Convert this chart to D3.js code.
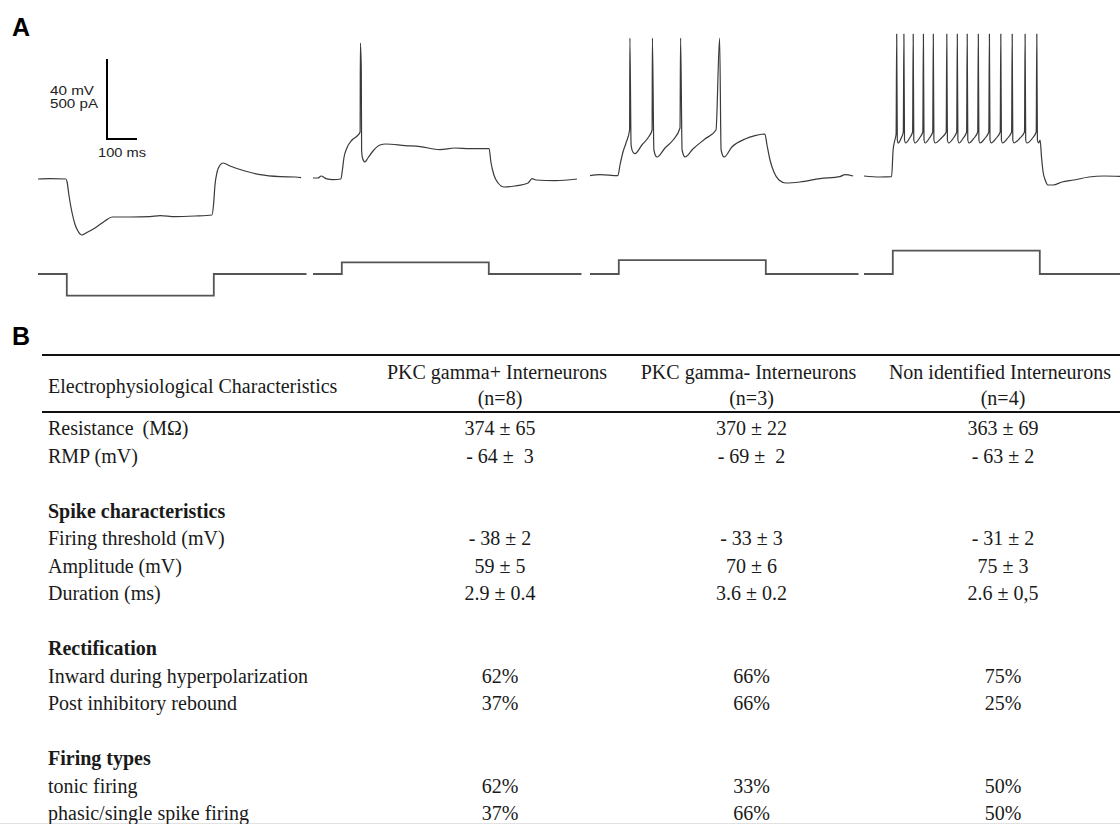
<!DOCTYPE html>
<html>
<head>
<meta charset="utf-8">
<script src="https://cdn.jsdelivr.net/npm/d3@7"></script>
<style>
  body { margin: 0; background: #fff; }
  svg { display: block; }
  .serif { font-family: "Liberation Serif", "Times New Roman", serif; font-size: 20px; fill: #1a1a1a; white-space: pre; }
</style>
</head>
<body>
<div id="chart"></div>
<script>
// ---- panel A : recordings, [time ms, membrane potential mV]
const trace1 = [
  [0, -65.5], [40, -65.3], [93, -65.5], [97, -67], [103, -73.5], [113, -82], [123, -88],
  [133, -91.5], [147, -93.5], [160, -92.5], [190, -90], [223, -86.5], [247, -84.5],
  [307, -84.5], [373, -84.3], [407, -83.8], [457, -84.3], [523, -84], [580, -83.5],
  [585, -78.5], [590, -68.5], [597, -62], [607, -58.5], [617, -57.5], [640, -59],
  [690, -61.5], [740, -63.3], [807, -64.3], [857, -64.5], [877, -64.8]
];
const trace2 = [
  [0, -65], [17, -65], [27, -64], [43, -65.3], [67, -65.8], [93, -65.5], [98, -61],
  [103, -55], [113, -50], [130, -46], [147, -44], [157, -42], [158, 2.5], [161, -11],
  [162, -51], [165, -55], [173, -57], [183, -55], [200, -51.5], [223, -48.5], [243, -48],
  [307, -48.8], [357, -49.3], [423, -50.8], [473, -50], [523, -50.3], [587, -50.3],
  [593, -57], [603, -63.5], [617, -67.5], [637, -69.5], [673, -69], [717, -67.5],
  [730, -65.3], [743, -66], [807, -66.3], [880, -65.5]
];
const trace3 = [
  [0, -63.8], [33, -63.3], [93, -63.8], [100, -58.5], [110, -52], [120, -47.5], [132, -41],
  [133, 5], [137, -48.5], [143, -52], [150, -52.8], [173, -48.5], [193, -45], [207, -41],
  [208, 5], [213, -51], [223, -54.5], [250, -50], [277, -46], [300, -40],
  [302, 5], [307, -51], [317, -54.5], [343, -50.5], [383, -45.5], [420, -41],
  [432, 5], [437, -51], [447, -54.5], [473, -49.5], [517, -45.5], [550, -43.8], [583, -43],
  [590, -48.5], [600, -56], [613, -62], [630, -66], [653, -67.5], [700, -67],
  [767, -65.3], [833, -64.3], [850, -63.3], [877, -64]
];
const trace4 = [
  [0, -64], [53, -64.5], [92, -64.3], [97, -51], [103, -46], [107, -43],
  [109, 7], [111, -46], [114, -47.5], [124, -45], [131, -42],
  [133, 7], [135, -46], [139, -47.5], [152, -45], [162, -42],
  [164, 7], [166, -46], [170, -47.5], [185, -45], [196, -42],
  [198, 7], [200, -46], [204, -47.5], [218, -45], [229, -42],
  [231, 7], [233, -46], [237, -47.5], [258, -45], [274, -42],
  [276, 7], [278, -46], [282, -47.5], [298, -45], [309, -42],
  [311, 7], [313, -46], [317, -47.5], [331, -45], [342, -42],
  [344, 7], [346, -46], [350, -47.5], [367, -45], [379, -42],
  [381, 7], [383, -46], [387, -47.5], [404, -45], [416, -42],
  [418, 7], [420, -46], [424, -47.5], [441, -45], [454, -42],
  [456, 7], [458, -46], [462, -47.5], [479, -45], [492, -42],
  [494, 7], [496, -46], [500, -47.5], [520, -45], [535, -42],
  [537, 7], [539, -46], [543, -47.5], [562, -45], [574, -42],
  [576, 7], [578, -46], [582, -47.5], [587, -46], [592, -55], [597, -62], [604, -66],
  [613, -68.5], [630, -68.5], [660, -67], [700, -66], [750, -64.5], [800, -64], [880, -64.3]
];
const traces = [trace1, trace2, trace3, trace4];

// injected current steps (pA)
const currentAmps = [-135, 73, 87, 146];
const stepOn = 96;
const stepOff = 586;
const currentEnd = 895;

// ---- panel B : table
const groups = ["PKC gamma+ Interneurons", "PKC gamma- Interneurons", "Non identified Interneurons"];
const groupN = ["(n=8)", "(n=3)", "(n=4)"];
const rowLabels = [
  "Resistance\u2009 (M\u03A9)", "RMP (mV)", "",
  "Spike characteristics", "Firing threshold (mV)", "Amplitude (mV)", "Duration (ms)", "",
  "Rectification", "Inward during hyperpolarization", "Post inhibitory rebound", "",
  "Firing types", "tonic firing", "phasic/single spike firing"
];
const sectionRows = ["Spike characteristics", "Rectification", "Firing types"];
const gammaPlus = ["374 \u00B1 65", "- 64 \u00B1  3", "", "", "- 38 \u00B1 2", "59 \u00B1 5", "2.9 \u00B1 0.4", "", "", "62%", "37%", "", "", "62%", "37%"];
const gammaMinus = ["370 \u00B1 22", "- 69 \u00B1  2", "", "", "- 33 \u00B1 3", "70 \u00B1 6", "3.6 \u00B1 0.2", "", "", "66%", "66%", "", "", "33%", "66%"];
const nonIdentified = ["363 \u00B1 69", "- 63 \u00B1 2", "", "", "- 31 \u00B1 2", "75 \u00B1 3", "2.6 \u00B1 0,5", "", "", "75%", "25%", "", "", "50%", "50%"];

const width = 1120;
const height = 824;

const svg = d3
  .select("#chart")
  .append("svg")
  .attr("width", width)
  .attr("height", height);

// panel letters
svg.selectAll(".panel-letter")
  .data([["A", 36], ["B", 345]])
  .enter()
  .append("text")
  .attr("x", 12)
  .attr("y", (d) => d[1])
  .style("font-family", "'Liberation Sans', Arial, sans-serif")
  .style("font-weight", "bold")
  .style("font-size", "25px")
  .text((d) => d[0]);

// scales shared by all sweeps: 0.3 px per ms, 2 px per mV, 0.16 px per pA
const panelX = [38, 313, 590, 864];
const xs = panelX.map((x0) => d3.scaleLinear().domain([0, 1000]).range([x0, x0 + 300]));
const yV = d3.scaleLinear().domain([-65, 5]).range([178, 38]);
const yI = d3.scaleLinear().domain([0, 500]).range([274, 194]);

// voltage traces
traces.forEach((tr, i) => {
  const line = d3.line()
    .x((d) => xs[i](d[0]))
    .y((d) => yV(d[1]))
    .curve(d3.curveMonotoneX);
  svg.append("path")
    .attr("d", line(tr))
    .attr("fill", "none")
    .attr("stroke", "#3a3a3a")
    .attr("stroke-width", 1.2)
    .attr("stroke-linejoin", "round");
});

// current steps
currentAmps.forEach((amp, i) => {
  const pts = [[0, 0], [stepOn, 0], [stepOn, amp], [stepOff, amp], [stepOff, 0], [currentEnd, 0]];
  const line = d3.line()
    .x((d) => xs[i](d[0]))
    .y((d) => yI(d[1]));
  svg.append("path")
    .attr("d", line(pts))
    .attr("fill", "none")
    .attr("stroke", "#555")
    .attr("stroke-width", 1.8);
});

// scale bar: 40 mV / 500 pA and 100 ms
const sbX = 107;
const sbBottom = 139;
const sbLen = yV(-65) - yV(-25);
const sbW = xs[0](100) - xs[0](0);
svg.append("path")
  .attr("d", `M${sbX},${sbBottom - sbLen}V${sbBottom}H${sbX + sbW}`)
  .attr("fill", "none")
  .attr("stroke", "#000")
  .attr("stroke-width", 2);

const sbText = [["40 mV", 50, 95, 44], ["500 pA", 50, 108, 48], ["100 ms", 98, 157, 48]];
svg.selectAll(".sb-label")
  .data(sbText)
  .enter()
  .append("text")
  .attr("x", (d) => d[1])
  .attr("y", (d) => d[2])
  .attr("textLength", (d) => d[3])
  .attr("lengthAdjust", "spacingAndGlyphs")
  .style("font-family", "'Liberation Sans', Arial, sans-serif")
  .style("font-size", "12.5px")
  .style("fill", "#222")
  .text((d) => d[0]);

// ---- table
const colX = d3.scalePoint().domain(groups).range([500, 1003]);
const rowY = d3.scalePoint().domain(d3.range(rowLabels.length)).range([435, 820]);

// rules
[[355, "#111", 2.2], [412, "#111", 2.2], [823.5, "#e2e2e2", 1]].forEach((r) => {
  svg.append("line")
    .attr("x1", r[0] > 800 ? 0 : 42)
    .attr("x2", width)
    .attr("y1", r[0])
    .attr("y2", r[0])
    .attr("stroke", r[1])
    .attr("stroke-width", r[2]);
});

svg.append("text")
  .attr("class", "serif")
  .attr("x", 48)
  .attr("y", 393)
  .text("Electrophysiological Characteristics");

svg.selectAll(".col-head")
  .data(groups)
  .enter()
  .append("text")
  .attr("class", "serif")
  .attr("x", (d) => colX(d) - 3)
  .attr("y", 379)
  .attr("text-anchor", "middle")
  .text((d) => d);

svg.selectAll(".col-n")
  .data(groupN)
  .enter()
  .append("text")
  .attr("class", "serif")
  .attr("x", (d, i) => colX(groups[i]))
  .attr("y", 405)
  .attr("text-anchor", "middle")
  .text((d) => d);

svg.selectAll(".row-label")
  .data(rowLabels)
  .enter()
  .append("text")
  .attr("class", "serif")
  .attr("x", 48)
  .attr("y", (d, i) => rowY(i))
  .style("font-weight", (d) => (sectionRows.includes(d) ? "bold" : "normal"))
  .text((d) => d);

[gammaPlus, gammaMinus, nonIdentified].forEach((col, j) => {
  svg.selectAll(".cell-" + j)
    .data(col)
    .enter()
    .append("text")
    .attr("class", "serif")
    .attr("x", colX(groups[j]))
    .attr("y", (d, i) => rowY(i))
    .attr("text-anchor", "middle")
    .text((d) => d);
});
</script>
</body>
</html>
